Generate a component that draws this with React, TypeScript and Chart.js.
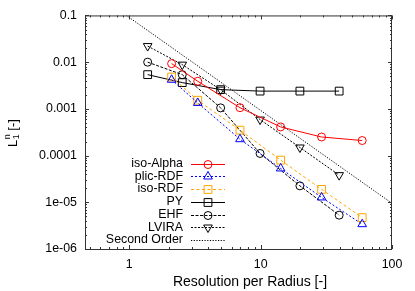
import React, { useEffect, useRef } from 'react';
import { Chart, registerables } from 'chart.js';
Chart.register(...registerables);

// ---- data ----
const seriesNames = ['iso-Alpha', 'plic-RDF', 'iso-RDF', 'PY', 'EHF', 'LVIRA', 'Second Order'];
const resolutionsRDF = [2.1, 3.32, 6.96, 14.2, 29.1, 59.3]; // iso-Alpha, plic-RDF, iso-RDF
const resolutionsGeo = [1.38, 2.53, 4.96, 9.9, 19.9, 39.6]; // PY, EHF, LVIRA
const isoAlpha = [0.0093, 0.0039, 0.00106, 0.00041, 0.00025, 0.00021];
const plicRDF = [0.0042, 0.00134, 0.000224, 0.000053, 0.0000127, 0.0000034];
const isoRDF = [0.0048, 0.00153, 0.00035, 0.00008, 0.0000189, 0.0000047];
const py = [0.0054, 0.00365, 0.00258, 0.0024, 0.0024, 0.0024];
const ehf = [0.01, 0.0054, 0.00105, 0.000111, 0.0000225, 0.0000053];
const lvira = [0.0221, 0.00885, 0.00258, 0.00059, 0.000149, 0.0000381];
const secondOrderX = [0.95, 100];
const secondOrderY = [0.1, 0.0000095];
const xTickValues = [1, 10, 100];
const xTickLabels = ['1', '10', '100'];
const yTickValues = [1e-6, 1e-5, 1e-4, 1e-3, 1e-2, 1e-1];
const yTickLabels = ['1e-06', '1e-05', '0.0001', '0.001', '0.01', '0.1'];
const xTitle = 'Resolution per Radius [-]';

const FONT = 'Liberation Sans';

const pts = (xs: number[], ys: number[]) => xs.map((x, i) => ({ x, y: ys[i] }));

type Style = {
  color: string;
  dash: number[];
  marker: 'circle' | 'rect' | 'triangle' | 'triangleDown' | 'none';
};
const styles: Style[] = [
  { color: '#ff0000', dash: [], marker: 'circle' },
  { color: '#0000ff', dash: [2, 2], marker: 'triangle' },
  { color: '#ffa500', dash: [3, 2.5], marker: 'rect' },
  { color: '#000000', dash: [], marker: 'rect' },
  { color: '#000000', dash: [3, 1.5], marker: 'circle' },
  { color: '#000000', dash: [2, 1.5], marker: 'triangleDown' },
  { color: '#000000', dash: [1.2, 1.5], marker: 'none' },
];

function drawMarker(ctx: CanvasRenderingContext2D, m: Style['marker'], x: number, y: number, color: string) {
  ctx.save();
  ctx.setLineDash([]);
  ctx.strokeStyle = color;
  ctx.lineWidth = 1;
  ctx.beginPath();
  if (m === 'circle') {
    ctx.arc(x, y, 4, 0, Math.PI * 2);
  } else if (m === 'rect') {
    ctx.rect(x - 3.9, y - 3.9, 7.8, 7.8);
  } else if (m === 'triangle' || m === 'triangleDown') {
    const s = m === 'triangle' ? 1 : -1;
    const r = 5;
    for (let k = 0; k < 3; k++) {
      const a = (k * 2 * Math.PI) / 3;
      const px = x + Math.sin(a) * r;
      const py2 = y - s * Math.cos(a) * r;
      if (k === 0) ctx.moveTo(px, py2);
      else ctx.lineTo(px, py2);
    }
    ctx.closePath();
  }
  if (m !== 'none') ctx.stroke();
  ctx.restore();
}

const decorPlugin = {
  id: 'decor',
  afterDraw(chart: any) {
    const { ctx, chartArea: a, scales } = chart;
    const xs = scales.x;
    const ys = scales.y;
    ctx.save();
    // frame
    ctx.strokeStyle = '#333333';
    ctx.lineWidth = 1;
    ctx.setLineDash([]);
    ctx.strokeRect(a.left + 0.5, a.top + 0.5, a.right - a.left - 1, a.bottom - a.top);
    // inward ticks
    ctx.beginPath();
    for (let d = -1; d <= 2; d++) {
      for (let m = 1; m <= 9; m++) {
        const v = m * Math.pow(10, d);
        if (v < xs.min * 0.999 || v > xs.max * 1.001) continue;
        const px = Math.round(xs.getPixelForValue(v)) + 0.5;
        const len = m === 1 ? 4 : 2;
        ctx.moveTo(px, a.bottom);
        ctx.lineTo(px, a.bottom - len);
        ctx.moveTo(px, a.top);
        ctx.lineTo(px, a.top + len);
      }
    }
    for (let d = -6; d <= -1; d++) {
      for (let m = 1; m <= 9; m++) {
        const v = m * Math.pow(10, d);
        if (v < ys.min * 0.999 || v > ys.max * 1.001) continue;
        const py2 = Math.round(ys.getPixelForValue(v)) + 0.5;
        const len = m === 1 ? 4 : 2;
        ctx.moveTo(a.left, py2);
        ctx.lineTo(a.left + len, py2);
        ctx.moveTo(a.right, py2);
        ctx.lineTo(a.right - len, py2);
      }
    }
    ctx.stroke();

    // x title
    ctx.fillStyle = '#000';
    ctx.font = `14px "${FONT}"`;
    ctx.textAlign = 'center';
    ctx.textBaseline = 'middle';
    ctx.fillText(xTitle, 250, 282);

    // y title L_1^n [-]
    ctx.save();
    ctx.translate(17, 147);
    ctx.rotate(-Math.PI / 2);
    ctx.textAlign = 'left';
    ctx.textBaseline = 'alphabetic';
    ctx.font = `13px "${FONT}"`;
    ctx.fillText('L', 0, 0);
    const wL = ctx.measureText('L').width;
    ctx.font = `9px "${FONT}"`;
    ctx.fillText('n', wL + 0.5, -7);
    ctx.fillText('1', wL + 0.5, 2);
    const wS = Math.max(ctx.measureText('n').width, ctx.measureText('1').width);
    ctx.font = `13px "${FONT}"`;
    ctx.fillText(' [-]', wL + wS + 0.5, 0);
    ctx.restore();

    // legend
    const textRight = 183;
    const lineL = 191;
    const lineR = 225;
    const top = 163.5;
    const step = 12.75;
    ctx.font = `12.4px "${FONT}"`;
    ctx.textAlign = 'right';
    ctx.textBaseline = 'middle';
    seriesNames.forEach((name, i) => {
      const y = top + i * step;
      const st = styles[i];
      ctx.fillStyle = '#000';
      ctx.fillText(name, textRight, y);
      ctx.save();
      ctx.strokeStyle = st.color;
      ctx.lineWidth = 1;
      ctx.setLineDash(st.dash);
      ctx.beginPath();
      ctx.moveTo(lineL, Math.round(y) + 0.5);
      ctx.lineTo(lineR, Math.round(y) + 0.5);
      ctx.stroke();
      ctx.restore();
      drawMarker(ctx, st.marker, (lineL + lineR) / 2, Math.round(y) + 0.5, st.color);
    });
    ctx.restore();
  },
};

export default function App() {
  const ref = useRef<HTMLCanvasElement>(null);
  useEffect(() => {
    document.body.style.margin = '0';
    if (!ref.current) return;
    Chart.defaults.font.family = FONT;
    Chart.defaults.font.size = 12;
    const seriesData = [
      pts(resolutionsRDF, isoAlpha),
      pts(resolutionsRDF, plicRDF),
      pts(resolutionsRDF, isoRDF),
      pts(resolutionsGeo, py),
      pts(resolutionsGeo, ehf),
      pts(resolutionsGeo, lvira),
      pts(secondOrderX, secondOrderY),
    ];
    const pointStyleOf = (m: Style['marker']) =>
      m === 'circle' ? 'circle' : m === 'rect' ? 'rect' : m === 'none' ? 'circle' : 'triangle';
    const chart = new Chart(ref.current, {
      type: 'line',
      data: {
        datasets: seriesNames.map((name, i) => {
          const st = styles[i];
          return {
            label: name,
            data: seriesData[i],
            borderColor: st.color,
            backgroundColor: st.color,
            borderWidth: 1,
            borderDash: st.dash,
            pointStyle: pointStyleOf(st.marker) as any,
            pointRotation: st.marker === 'triangleDown' ? 180 : 0,
            pointRadius: st.marker === 'none' ? 0 : st.marker === 'rect' ? 5.5 : st.marker === 'circle' ? 4 : 5,
            pointBorderWidth: 1,
            pointBorderColor: st.color,
            pointBackgroundColor: 'rgba(0,0,0,0)',
            fill: false,
            tension: 0,
          };
        }),
      },
      options: {
        animation: false,
        responsive: false,
        maintainAspectRatio: false,
        layout: { padding: { top: 15, right: 23, left: 0, bottom: 0 } },
        plugins: { legend: { display: false }, tooltip: { enabled: false } },
        scales: {
          x: {
            type: 'logarithmic',
            min: 0.46,
            max: 100,
            grid: { display: false, drawTicks: false },
            border: { display: false },
            afterBuildTicks: (s: any) => {
              s.ticks = xTickValues.map((v) => ({ value: v }));
            },
            afterFit: (s: any) => {
              s.height = 42;
            },
            ticks: {
              autoSkip: false,
              maxRotation: 0,
              padding: 8,
              color: '#000',
              font: { family: FONT, size: 12.4 },
              callback: (_v: any, i: number) => xTickLabels[i],
            },
          },
          y: {
            type: 'logarithmic',
            min: 1e-6,
            max: 0.1,
            grid: { display: false, drawTicks: false },
            border: { display: false },
            afterBuildTicks: (s: any) => {
              s.ticks = yTickValues.map((v) => ({ value: v }));
            },
            afterFit: (s: any) => {
              s.width = 85;
            },
            ticks: {
              autoSkip: false,
              padding: 8,
              color: '#000',
              font: { family: FONT, size: 12.4 },
              callback: (_v: any, i: number) => yTickLabels[i],
            },
          },
        },
      },
      plugins: [decorPlugin],
    } as any);
    return () => chart.destroy();
  }, []);
  return <canvas ref={ref} width={415} height={291} style={{ display: 'block' }} />;
}
